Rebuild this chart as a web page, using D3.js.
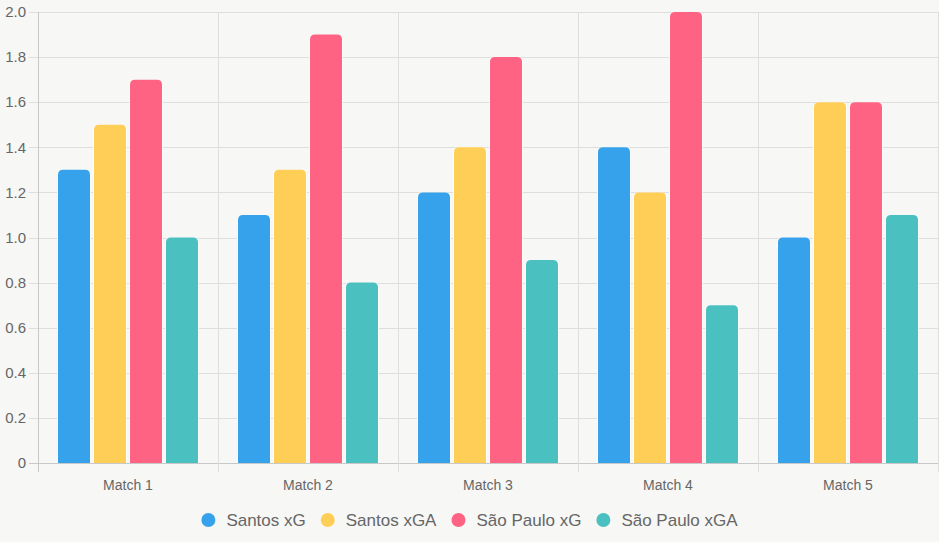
<!DOCTYPE html>
<html>
<head>
<meta charset="utf-8">
<script src="https://cdn.jsdelivr.net/npm/d3@7"></script>
<style>
  html, body { margin: 0; padding: 0; background: #f7f7f5; }
  svg { display: block; font-family: "Liberation Sans", Arial, Helvetica, sans-serif; }
</style>
</head>
<body>
<div id="chart"></div>
<script>
// data
const matches = ["Match 1", "Match 2", "Match 3", "Match 4", "Match 5"];
const seriesNames = ["Santos xG", "Santos xGA", "São Paulo xG", "São Paulo xGA"];
const santosXG = [1.3, 1.1, 1.2, 1.4, 1.0];
const santosXGA = [1.5, 1.3, 1.4, 1.2, 1.6];
const saoPauloXG = [1.7, 1.9, 1.8, 2.0, 1.6];
const saoPauloXGA = [1.0, 0.8, 0.9, 0.7, 1.1];
const yTicks = [0, 0.2, 0.4, 0.6, 0.8, 1.0, 1.2, 1.4, 1.6, 1.8, 2.0];
const yTickLabels = ["0", "0.2", "0.4", "0.6", "0.8", "1.0", "1.2", "1.4", "1.6", "1.8", "2.0"];
const colors = ["#36A2EB", "#FFCE56", "#FF6384", "#4BC0C0"];

const allValues = [santosXG, santosXGA, saoPauloXG, saoPauloXGA];

const width = 939, height = 542;
const plotLeft = 38, plotRight = 938, plotTop = 12, plotBottom = 463;

const svg = d3.select("#chart")
    .append("svg")
    .attr("width", width)
    .attr("height", height);

const x = d3.scaleBand()
    .domain(matches)
    .range([plotLeft, plotRight]);

// bars take 80% of each category
const x1 = d3.scaleBand()
    .domain(seriesNames)
    .range([x.bandwidth() * 0.1, x.bandwidth() * 0.9]);

const y = d3.scaleLinear()
    .domain([0, 2])
    .range([plotBottom, plotTop]);

// grid lines
const grid = svg.append("g");
grid.selectAll(".hgrid")
    .data(yTicks)
    .enter().append("line")
    .attr("x1", plotLeft - 9)
    .attr("x2", plotRight)
    .attr("y1", d => Math.round(y(d)) + 0.5)
    .attr("y2", d => Math.round(y(d)) + 0.5)
    .attr("stroke", d => d === 0 ? "#c8c8c8" : "#dedede")
    .attr("stroke-width", 1);

const xEdges = matches.map(m => x(m)).concat([plotRight]);
grid.selectAll(".vgrid")
    .data(xEdges)
    .enter().append("line")
    .attr("x1", d => Math.round(d) + 0.5)
    .attr("x2", d => Math.round(d) + 0.5)
    .attr("y1", plotTop)
    .attr("y2", plotBottom + 9)
    .attr("stroke", (d, i) => i === 0 ? "#c8c8c8" : "#dedede")
    .attr("stroke-width", 1);

// y labels
svg.append("g")
    .selectAll("text")
    .data(yTicks)
    .enter().append("text")
    .attr("x", 26)
    .attr("y", d => y(d))
    .attr("dy", "0.35em")
    .attr("text-anchor", "end")
    .attr("fill", "#666")
    .attr("font-size", 15)
    .text((d, i) => yTickLabels[i]);

// x labels
svg.append("g")
    .selectAll("text")
    .data(matches)
    .enter().append("text")
    .attr("x", d => x(d) + x.bandwidth() / 2)
    .attr("y", 490)
    .attr("text-anchor", "middle")
    .attr("fill", "#666")
    .attr("font-size", 14)
    .text(d => d);

// rounded top bar path
function barPath(x0, y0, w, h, r) {
    r = Math.min(r, w / 2, h);
    return `M${x0},${y0 + h}V${y0 + r}Q${x0},${y0} ${x0 + r},${y0}H${x0 + w - r}Q${x0 + w},${y0} ${x0 + w},${y0 + r}V${y0 + h}Z`;
}

const bw = 2;
const groups = svg.selectAll(".serie")
    .data(seriesNames)
    .enter().append("g")
    .attr("class", "serie");

groups.each(function(name, si) {
    const g = d3.select(this);
    const vals = allValues[si];
    vals.forEach((v, mi) => {
        const bx = x(matches[mi]) + x1(name);
        const w = x1.bandwidth();
        const by = y(v);
        const h = y(0) - by;
        g.append("path")
            .attr("d", barPath(bx + 1, by, w - 2, h, 5))
            .attr("fill", "#ffffff")
            .attr("fill-opacity", 0.8);
        g.append("path")
            .attr("d", barPath(bx + bw, by, w - 2 * bw, h, 5))
            .attr("fill", colors[si]);
    });
});

// legend
const legend = svg.append("g");
const fontSize = 17;
let cx = 0;
seriesNames.forEach((name, i) => {
    const item = legend.append("g");
    item.append("circle")
        .attr("cx", 7)
        .attr("cy", 0)
        .attr("r", 7)
        .attr("fill", colors[i]);
    const t = item.append("text")
        .attr("x", 25)
        .attr("y", 0)
        .attr("dy", "0.35em")
        .attr("fill", "#666")
        .attr("font-size", fontSize)
        .text(name);
    const tw = t.node().getComputedTextLength();
    item.attr("transform", `translate(${cx},0)`);
    cx += 25 + tw + 15;
});
const totalW = cx - 15;
legend.attr("transform", `translate(${(width - totalW) / 2},520)`);
</script>
</body>
</html>
